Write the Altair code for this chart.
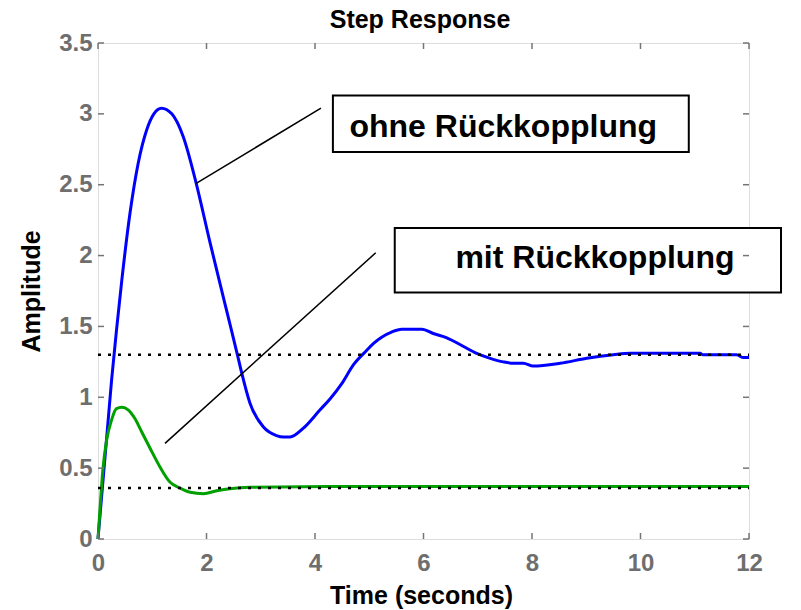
import altair as alt
import pandas as pd

# Step response without feedback (ohne Rückkopplung)
t_open = [0, 0.25, 0.34, 0.44, 0.59, 0.74, 0.90, 1.03, 1.17, 1.36, 1.57, 1.81,
          2.06, 2.25, 2.43, 2.57, 2.65, 2.80, 3.05, 3.29, 3.42, 3.54, 3.78, 4.09,
          4.28, 4.50, 4.71, 4.95, 5.08, 5.41, 5.60, 5.97, 6.18, 6.43, 6.73, 6.98,
          7.23, 7.47, 7.66, 7.84, 8.02, 8.52, 9.01, 9.50, 9.81, 11.10, 11.15,
          11.77, 11.90, 12.0]
y_open = [0, 1.12, 1.47, 1.83, 2.30, 2.65, 2.89, 3.00, 3.04, 3.00, 2.84, 2.51,
          2.10, 1.80, 1.52, 1.30, 1.17, 0.96, 0.79, 0.73, 0.72, 0.72, 0.78, 0.91,
          0.99, 1.10, 1.23, 1.33, 1.38, 1.46, 1.48, 1.48, 1.45, 1.42, 1.36, 1.31,
          1.275, 1.25, 1.24, 1.24, 1.22, 1.24, 1.275, 1.30, 1.31, 1.31, 1.30,
          1.30, 1.28, 1.28]

# Step response with feedback (mit Rückkopplung)
t_closed = [0, 0.04, 0.09, 0.16, 0.25, 0.34, 0.44, 0.56, 0.68, 0.80, 0.96,
            1.14, 1.33, 1.51, 1.70, 1.94, 2.19, 2.43, 2.80, 4.65, 12.0]
y_closed = [0, 0.23, 0.49, 0.70, 0.84, 0.92, 0.93, 0.91, 0.85, 0.76, 0.64,
            0.51, 0.40, 0.36, 0.33, 0.32, 0.34, 0.355, 0.365, 0.37, 0.37]

# Steady-state values (dotted reference lines)
final_values = [1.30, 0.36]

# Axis ticks
x_ticks = [0, 2, 4, 6, 8, 10, 12]
y_ticks = [0, 0.5, 1, 1.5, 2, 2.5, 3, 3.5]

# Annotation labels, their boxes and pointer lines
labels = ["ohne Rückkopplung", "mit Rückkopplung"]
label_x = [7.47, 9.16]
label_y = [2.84, 1.91]
box_x1 = [4.33, 5.47]
box_x2 = [10.89, 12.59]
box_y1 = [2.73, 1.74]
box_y2 = [3.13, 2.195]
ptr_x1 = [1.81, 1.235]
ptr_y1 = [2.51, 0.675]
ptr_x2 = [4.11, 5.12]
ptr_y2 = [3.04, 2.02]

chart_title = ["Step Response"]

W, H = 651, 496
FONT = "Liberation Sans"
GRAY = "#757575"
LABEL_GRAY = "#6e6e6e"

xs = alt.Scale(domain=[0, 12], nice=False, zero=False)
ys = alt.Scale(domain=[0, 3.5], nice=False, zero=False)

x_axis = alt.Axis(
    values=x_ticks, format="d", title="Time (seconds)",
    labelFont=FONT, labelFontSize=24, labelFontWeight="bold", labelColor=LABEL_GRAY,
    labelPadding=12, labelFlush=False, labelOverlap=False,
    ticks=False, tickSize=0, domain=False, grid=False,
    titleFont=FONT, titleFontSize=25, titleFontWeight="bold", titleColor="black",
    titleX=323, titleY=64, titleAlign="center", titleBaseline="alphabetic",
)
y_axis = alt.Axis(
    values=y_ticks, format="~g", title="Amplitude",
    labelFont=FONT, labelFontSize=24, labelFontWeight="bold", labelColor=LABEL_GRAY,
    labelPadding=6, labelFlush=False, labelOverlap=False,
    ticks=False, tickSize=0, domain=False, grid=False,
    titleFont=FONT, titleFontSize=25, titleFontWeight="bold", titleColor="black",
    titleAngle=270, titleX=-59, titleY=248, titleAlign="center",
    titleBaseline="alphabetic",
)

open_df = pd.DataFrame({"t": t_open, "y": y_open})
closed_df = pd.DataFrame({"t": t_closed, "y": y_closed})
final_df = pd.DataFrame({"x": [0] * len(final_values), "x2": [12] * len(final_values),
                         "y": final_values})
ann_df = pd.DataFrame({
    "label": labels, "lx": label_x, "ly": label_y,
    "bx1": box_x1, "bx2": box_x2, "by1": box_y1, "by2": box_y2,
    "px1": ptr_x1, "py1": ptr_y1, "px2": ptr_x2, "py2": ptr_y2,
})
xt_df = pd.DataFrame({"v": x_ticks})
yt_df = pd.DataFrame({"v": y_ticks})
title_df = pd.DataFrame({"title": chart_title})

open_line = alt.Chart(open_df).mark_line(
    color="#0000ff", strokeWidth=3, interpolate="monotone"
).encode(
    x=alt.X("t:Q", scale=xs, axis=x_axis),
    y=alt.Y("y:Q", scale=ys, axis=y_axis),
    order="t:Q",
)
closed_line = alt.Chart(closed_df).mark_line(
    color="#00a000", strokeWidth=3, interpolate="monotone"
).encode(
    x=alt.X("t:Q", scale=xs),
    y=alt.Y("y:Q", scale=ys),
    order="t:Q",
)
final_rules = alt.Chart(final_df).mark_rule(
    color="black", strokeWidth=2.5, strokeDash=[3, 7]
).encode(
    x=alt.X("x:Q", scale=xs), x2="x2:Q", y=alt.Y("y:Q", scale=ys)
)
pointers = alt.Chart(ann_df).mark_rule(color="black", strokeWidth=1.5).encode(
    x=alt.X("px1:Q", scale=xs), x2="px2:Q",
    y=alt.Y("py1:Q", scale=ys), y2="py2:Q",
)
boxes = alt.Chart(ann_df).mark_rect(
    fill="white", stroke="black", strokeWidth=2, clip=False
).encode(
    x=alt.X("bx1:Q", scale=xs), x2="bx2:Q",
    y=alt.Y("by1:Q", scale=ys), y2="by2:Q",
)
texts = alt.Chart(ann_df).mark_text(
    font=FONT, fontSize=32, fontWeight="bold", color="black",
    align="center", baseline="alphabetic", clip=False
).encode(
    x=alt.X("lx:Q", scale=xs), y=alt.Y("ly:Q", scale=ys), text="label:N"
)

# Inward tick marks on all four sides of the frame
tick_style = dict(color=GRAY, strokeWidth=1.5)
ticks_bottom = alt.Chart(xt_df).mark_rule(**tick_style).encode(
    x=alt.X("v:Q", scale=xs), y=alt.value(H), y2=alt.value(H - 6))
ticks_top = alt.Chart(xt_df).mark_rule(**tick_style).encode(
    x=alt.X("v:Q", scale=xs), y=alt.value(0), y2=alt.value(6))
ticks_left = alt.Chart(yt_df).mark_rule(**tick_style).encode(
    y=alt.Y("v:Q", scale=ys), x=alt.value(0), x2=alt.value(6))
ticks_right = alt.Chart(yt_df).mark_rule(**tick_style).encode(
    y=alt.Y("v:Q", scale=ys), x=alt.value(W), x2=alt.value(W - 6))

# Chart title drawn above the frame
title_text = alt.Chart(title_df).mark_text(
    font=FONT, fontSize=25, fontWeight="bold", color="black",
    align="center", baseline="alphabetic", clip=False
).encode(
    text="title:N", x=alt.value(322), y=alt.value(-15)
)

chart = alt.layer(
    open_line, closed_line, final_rules, pointers, boxes, texts,
    ticks_bottom, ticks_top, ticks_left, ticks_right, title_text,
).properties(
    width=W, height=H,
    autosize=alt.AutoSizeParams(type="none"),
    padding={"left": 98, "top": 43, "right": 52, "bottom": 71},
).configure_view(
    stroke=GRAY, strokeWidth=2
).configure(background="white")

chart.save("out.html", embed_options={"renderer": "svg", "actions": False})
